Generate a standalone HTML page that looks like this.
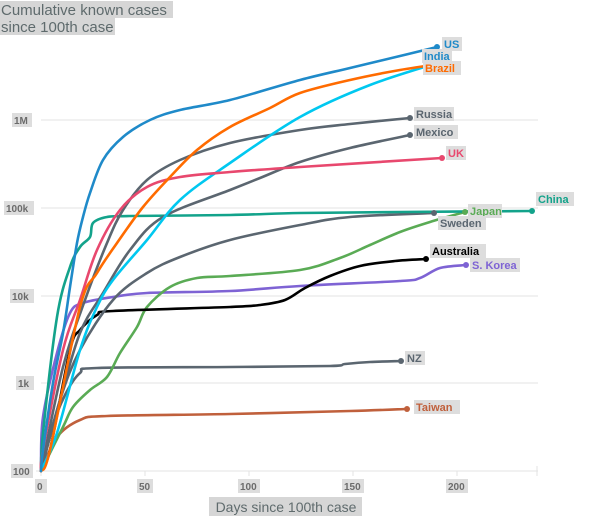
<!DOCTYPE html>
<html><head><style>
body{margin:0;background:#fff;width:604px;height:519px;overflow:hidden;font-family:"Liberation Sans",sans-serif}
</style></head><body>
<svg id="s" width="604" height="519" xmlns="http://www.w3.org/2000/svg" font-family="Liberation Sans, sans-serif">
<g fill="#d6d6d6">
<rect x="0" y="1" width="173" height="17"/><rect x="0" y="18" width="115" height="17"/>
</g>
<text x="1" y="15" font-size="15" fill="#5f6b6d">Cumulative known cases</text>
<text x="1" y="32" font-size="15" fill="#5f6b6d">since 100th case</text>
<g stroke="#e3e3e3" stroke-width="1">
<line x1="41" y1="120" x2="538" y2="120"/><line x1="41" y1="208" x2="538" y2="208"/>
<line x1="41" y1="296" x2="538" y2="296"/><line x1="41" y1="383" x2="538" y2="383"/>
<line x1="36" y1="471" x2="538" y2="471"/>
<line x1="41" y1="466" x2="41" y2="476"/><line x1="145" y1="471" x2="145" y2="476"/><line x1="249" y1="471" x2="249" y2="476"/><line x1="353" y1="471" x2="353" y2="476"/><line x1="457" y1="471" x2="457" y2="476"/><line x1="537" y1="466" x2="537" y2="476"/>
</g>
<g font-size="10" font-weight="bold" fill="#6b6b6b">
<rect x="12" y="113" width="20" height="14" fill="#ddd"/><text x="14" y="124">1M</text>
<rect x="4" y="201" width="30" height="14" fill="#ddd"/><text x="6" y="212">100k</text>
<rect x="10" y="289" width="24" height="14" fill="#ddd"/><text x="12" y="300">10k</text>
<rect x="16" y="376" width="18" height="14" fill="#ddd"/><text x="18" y="387">1k</text>
<rect x="11" y="464" width="22" height="14" fill="#ddd"/><text x="13" y="475">100</text>
<rect x="35" y="479" width="12" height="14" fill="#ddd"/><text x="37" y="490">0</text>
<rect x="137" y="479" width="16" height="14" fill="#ddd"/><text x="139" y="490">50</text>
<rect x="238" y="479" width="22" height="14" fill="#ddd"/><text x="240" y="490">100</text>
<rect x="342" y="479" width="22" height="14" fill="#ddd"/><text x="344" y="490">150</text>
<rect x="446" y="479" width="22" height="14" fill="#ddd"/><text x="448" y="490">200</text>
</g>
<rect x="209" y="497" width="153" height="19" fill="#d6d6d6"/>
<text x="286" y="512" font-size="14" fill="#5f6b6d" text-anchor="middle">Days since 100th case</text>
<g id="lines" fill="none" stroke-width="2.6" stroke-linejoin="round" stroke-linecap="round"></g>
<g>
<circle cx="437" cy="47" r="3" fill="#1f8ac9"/><circle cx="444" cy="61" r="3" fill="#00c8f0"/><circle cx="447" cy="63" r="3" fill="#ff6b00"/>
<circle cx="410" cy="118" r="3" fill="#5b6670"/><circle cx="410" cy="135" r="3" fill="#5b6670"/><circle cx="442" cy="158" r="3" fill="#e8486e"/>
<circle cx="532" cy="211" r="3" fill="#13a38b"/><circle cx="434" cy="213" r="3" fill="#5b6670"/><circle cx="465" cy="212" r="3" fill="#5aab55"/>
<circle cx="426" cy="259" r="3" fill="#000"/><circle cx="466" cy="265" r="3" fill="#7e63d4"/><circle cx="401" cy="361" r="3" fill="#5b6670"/><circle cx="407" cy="409" r="3" fill="#c0603c"/>
</g>
<g font-size="11" font-weight="bold">
<rect x="442" y="37" width="20" height="14" fill="#ddd"/><text x="444" y="48" fill="#1f8ac9">US</text>
<rect x="422" y="49" width="30" height="14" fill="#ddd"/><text x="424" y="60" fill="#1f8ac9">India</text>
<rect x="423" y="61" width="38" height="14" fill="#ddd"/><text x="425" y="72" fill="#ff6b00">Brazil</text>
<rect x="414" y="107" width="40" height="14" fill="#ddd"/><text x="416" y="118" fill="#5b6670">Russia</text>
<rect x="414" y="125" width="44" height="14" fill="#ddd"/><text x="416" y="136" fill="#5b6670">Mexico</text>
<rect x="446" y="146" width="20" height="14" fill="#ddd"/><text x="448" y="157" fill="#e8486e">UK</text>
<rect x="536" y="192" width="38" height="14" fill="#ddd"/><text x="538" y="203" fill="#13a38b">China</text>
<rect x="468" y="204" width="34" height="14" fill="#ddd"/><text x="470" y="215" fill="#5aab55">Japan</text>
<rect x="438" y="216" width="48" height="14" fill="#ddd"/><text x="440" y="227" fill="#5b6670">Sweden</text>
<rect x="430" y="244" width="56" height="14" fill="#ddd"/><text x="432" y="255" fill="#000">Australia</text>
<rect x="470" y="258" width="50" height="14" fill="#ddd"/><text x="472" y="269" fill="#7e63d4">S. Korea</text>
<rect x="405" y="351" width="20" height="14" fill="#ddd"/><text x="407" y="362" fill="#5b6670">NZ</text>
<rect x="414" y="400" width="46" height="14" fill="#ddd"/><text x="416" y="411" fill="#c0603c">Taiwan</text>
</g>
</svg>
<script>
var S=[
["#c0603c",[41,471,57,437,80,420,107,416,230,414,350,411,407,409]],
["#5b6670",[41,471,50,433,65,395,80,373,97,368,230,367,330,366,345,364,370,362,401,361]],
["#7e63d4",[41,465,43,417,57,353,70,313,83,303,113,297,147,293,230,291,300,286,400,281,420,278,440,268,466,265]],
["#5aab55",[41,471,63,427,73,407,90,390,107,377,120,353,137,327,147,307,170,287,197,278,230,276,300,270,340,258,370,245,400,232,430,222,465,212]],
["#000000",[41,471,50,450,70,350,80,330,97,315,113,311,230,307,260,305,285,300,305,288,330,276,360,266,395,261,426,259]],
["#5b6670",[41,471,60,400,80,350,113,300,147,273,180,257,230,240,300,225,350,217,434,213]],
["#13a38b",[41,471,43,433,57,317,70,267,80,247,90,237,93,223,107,217,130,216,230,215,300,213,400,212,532,211]],
["#5b6670",[41,471,60,400,80,333,103,293,130,250,163,217,230,190,260,178,300,162,350,148,410,135]],
["#5b6670",[41,471,63,367,85,300,107,243,123,210,147,180,180,160,230,143,300,130,350,124,410,118]],
["#00c8f0",[41,471,57,433,80,350,97,307,113,280,147,240,180,200,230,163,300,117,370,85,444,61]],
["#e8486e",[41,471,43,450,63,350,80,300,97,250,120,210,147,187,180,177,230,172,300,167,442,158]],
["#ff6b00",[41,471,50,450,80,307,97,273,117,243,143,207,170,177,197,150,230,127,270,108,300,93,350,80,400,70,447,63]],
["#1f8ac9",[41,471,43,450,53,383,63,333,70,287,77,243,83,217,90,193,103,160,123,137,150,120,180,110,230,100,300,80,350,68,400,56,437,47]]
];
var g=document.getElementById("lines");
S.forEach(function(s){
 var a=s[1],p=[];for(var i=0;i<a.length;i+=2)p.push([a[i],a[i+1]]);
 var d="M"+p[0][0]+","+p[0][1];
 for(var i=0;i<p.length-1;i++){
  var p0=p[i-1]||p[i],p1=p[i],p2=p[i+1],p3=p[i+2]||p2;
  var c1x=p1[0]+(p2[0]-p0[0])/6,c1y=p1[1]+(p2[1]-p0[1])/6;
  var c2x=p2[0]-(p3[0]-p1[0])/6,c2y=p2[1]-(p3[1]-p1[1])/6;
  d+=" C"+c1x+","+c1y+" "+c2x+","+c2y+" "+p2[0]+","+p2[1];
 }
 var e=document.createElementNS("http://www.w3.org/2000/svg","path");
 e.setAttribute("d",d);e.setAttribute("stroke",s[0]);g.appendChild(e);
});
</script>
</body></html>
